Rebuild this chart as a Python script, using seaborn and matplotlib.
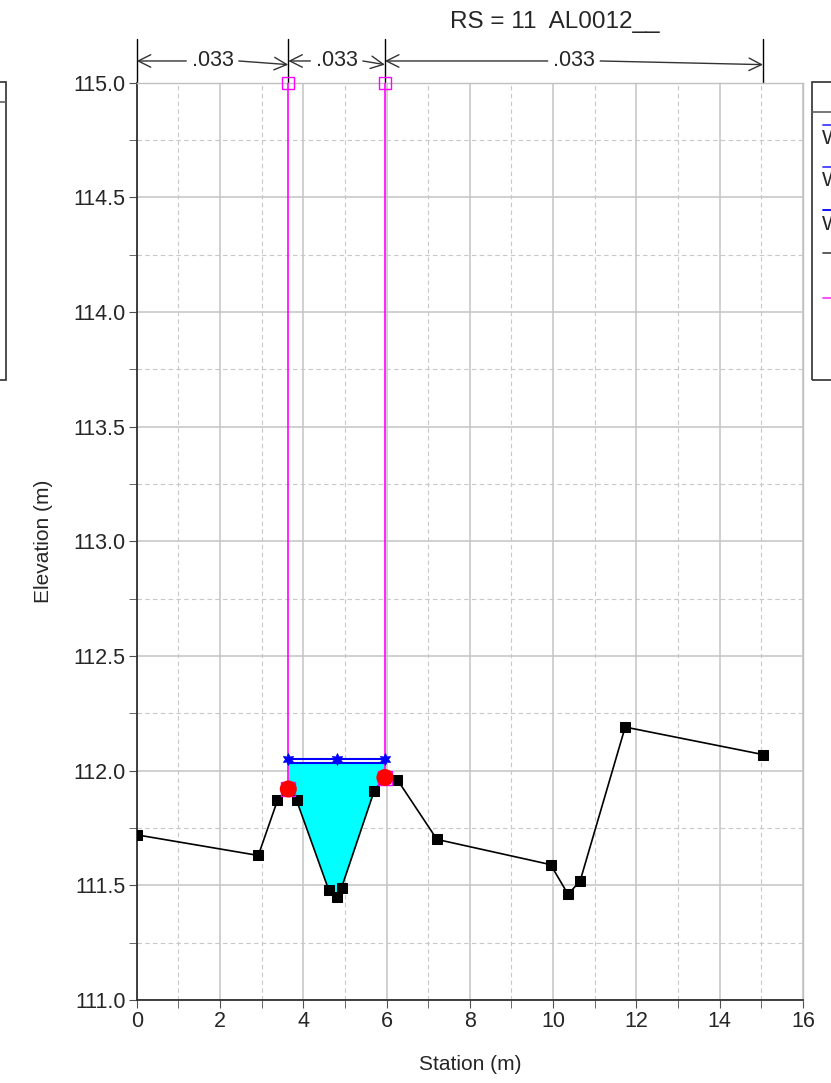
import numpy as np
import pandas as pd
import matplotlib
matplotlib.use("Agg")
import matplotlib.pyplot as plt
from matplotlib.ticker import MultipleLocator, FormatStrFormatter
from matplotlib.patches import Rectangle
from matplotlib.lines import Line2D
import seaborn as sns

# ground survey points (station, elevation)
station = [0.0, 2.92, 3.38, 3.64, 3.84, 4.61, 4.80, 4.92, 5.70, 5.96, 6.26,
           7.21, 9.94, 10.36, 10.65, 11.73, 15.04]
elevation = [111.72, 111.63, 111.87, 111.92, 111.87, 111.48, 111.45, 111.49,
             111.91, 111.97, 111.96, 111.70, 111.59, 111.46, 111.52, 112.19, 112.07]

# bank stations
bank_station = [3.64, 5.96]
bank_elevation = [111.92, 111.97]

# water surface
ws_station = [3.64, 4.80, 5.96]
ws_upper = 112.05
ws_lower = 112.035

# ineffective flow limits
ineff_station = [3.64, 5.96]
ineff_top = 115.0

# manning's n
n_breaks = [0.0, 3.64, 5.96, 15.04]
n_values = [".033", ".033", ".033"]

legend_labels = ["WS PF 1", "WS PF 2", "WS PF 3", "Ground", "Ineff"]
legend_colors = ["#4040ff", "#4040ff", "#0000ff", "#505050", "#ff40ff"]

sns.set_style("white")
plt.rcParams['font.family'] = ['Liberation Sans', 'DejaVu Sans']

W, H = 831, 1083
fig = plt.figure(figsize=(W / 100, H / 100), dpi=100)
ax = fig.add_axes([136.7 / W, 1 - 999.9 / H, (803 - 136.7) / W, (999.9 - 82.8) / H])

df = pd.DataFrame({"Station": station, "Elevation": elevation})

# water in channel
ch = df[(df.Station >= bank_station[0]) & (df.Station <= bank_station[1])]
ax.fill_between(ch.Station, ch.Elevation, ws_lower, color="#00ffff", lw=0, zorder=2)

# water surface lines
for ws in [ws_upper, ws_lower]:
    ax.plot([ws_station[0], ws_station[-1]], [ws, ws], color="blue", lw=1.5, zorder=3)
sns.scatterplot(x=ws_station, y=[ws_upper] * len(ws_station), marker=(6, 1, 0), s=70,
                color="blue", edgecolor="blue", ax=ax, zorder=4)

# ineffective flow lines
for xs, ye in zip(ineff_station, bank_elevation):
    ax.plot([xs, xs], [ye, ineff_top], color="magenta", lw=1.2, zorder=3)
ax.plot(ineff_station, [ineff_top] * 2, "s", mfc="none", mec="magenta", ms=9,
        mew=1, clip_on=False, zorder=6)

# ground
sns.lineplot(data=df, x="Station", y="Elevation", sort=False, color="black", lw=1.2,
             marker="s", markersize=6.5, markeredgecolor="black", ax=ax, zorder=5)

# bank stations
ax.plot(bank_station, bank_elevation, "s", mfc="none", mec="magenta", ms=10.5, mew=1, zorder=6)
sns.scatterplot(x=bank_station, y=bank_elevation, color="red", s=150, edgecolor="none",
                ax=ax, zorder=7)

ax.set_xlim(0, 16)
ax.set_ylim(111, 115)
ax.xaxis.set_major_locator(MultipleLocator(2))
ax.xaxis.set_minor_locator(MultipleLocator(1))
ax.yaxis.set_major_locator(MultipleLocator(0.5))
ax.yaxis.set_minor_locator(MultipleLocator(0.25))
ax.yaxis.set_major_formatter(FormatStrFormatter("%.1f"))

ax.set_axisbelow(True)
ax.grid(which="major", color="#c8c8c8", lw=1.2)
ax.grid(which="minor", color="#c8c8c8", lw=0.8, ls=(0, (4, 3)))
ax.tick_params(which="both", direction="out", length=6, color="#505050",
               bottom=True, left=True, labelsize=15.5, pad=2)

for s in ["left", "bottom"]:
    ax.spines[s].set_color("#303030")
    ax.spines[s].set_linewidth(1.3)
for s in ["top", "right"]:
    ax.spines[s].set_color("#c0c0c0")
    ax.spines[s].set_linewidth(1.0)

ax.set_xlabel("Station (m)", fontsize=15)
ax.set_ylabel("Elevation (m)", fontsize=15)
ax.xaxis.set_label_coords(0.5, -0.06)
ax.yaxis.set_label_coords(-0.125, 0.5)

# manning's n annotations above the plot
tr = ax.get_xaxis_transform()
ya = 1.0238
for xb in n_breaks:
    ax.plot([xb, xb], [1.0, 1.0478], transform=tr, color="black", lw=1, clip_on=False)
arrow = dict(arrowstyle="->,head_length=0.6,head_width=0.3", lw=1, color="#333333",
             shrinkA=0, shrinkB=0, mutation_scale=15)
for a, b, n in zip(n_breaks[:-1], n_breaks[1:], n_values):
    mid = (a + b) / 2
    ax.text(mid, ya, n, transform=tr, ha="center", va="center", fontsize=15.5)
    ax.annotate("", xy=(a, ya), xytext=(mid - 0.63, ya), xycoords=tr, textcoords=tr,
                arrowprops=arrow, annotation_clip=False)
    ax.annotate("", xy=(b, ya - 0.004), xytext=(mid + 0.63, ya), xycoords=tr, textcoords=tr,
                arrowprops=arrow, annotation_clip=False)

fig.text(555 / W, 1 - 22 / H, "RS = 11  AL0012__", ha="center", va="center", fontsize=17.5)

# legend boxes (cut off by the figure edge)
fig.add_artist(Rectangle((812 / W, 1 - 380 / H), 60 / W, 298 / H, transform=fig.transFigure,
                         fill=False, ec="#303030", lw=1.2))
fig.add_artist(Line2D([812 / W, 1.0], [1 - 112 / H] * 2, color="#606060", lw=1.2))
leg_y = [125, 167, 210, 253, 298]
for i, (lab, c) in enumerate(zip(legend_labels, legend_colors)):
    fig.add_artist(Line2D([823 / W, 1.0], [1 - leg_y[i] / H] * 2, color=c, lw=1.3))
    if lab.startswith("WS"):
        fig.text(822 / W, 1 - (leg_y[i] + 14) / H, lab, ha="left", va="center", fontsize=15)

fig.add_artist(Rectangle((-40 / W, 1 - 380 / H), 46 / W, 298 / H, transform=fig.transFigure,
                         fill=False, ec="#303030", lw=1.2))
fig.add_artist(Line2D([0, 6 / W], [1 - 102 / H] * 2, color="#606060", lw=1.2))

fig.savefig("out.png", dpi=100)
